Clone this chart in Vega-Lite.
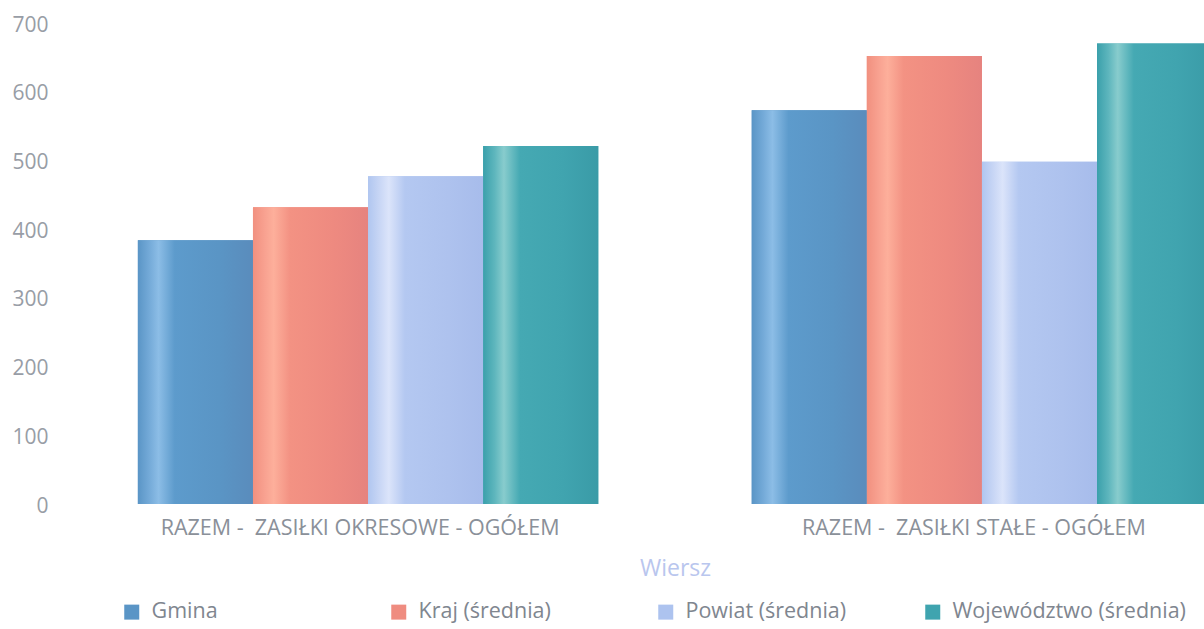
{
  "$schema": "https://vega.github.io/schema/vega-lite/v6.json",
  "autosize": {"type": "none"},
  "padding": {"left": 55, "top": 23, "right": 0, "bottom": 125},
  "width": 1240,
  "height": 481,
  "background": "white",
  "config": {
    "font": "Open Sans",
    "view": {"stroke": null}
  },
  "data": {
    "values": [
      {"category": "RAZEM - \u00a0ZASIŁKI OKRESOWE - OGÓŁEM", "series": "Gmina", "value": 384},
      {"category": "RAZEM - \u00a0ZASIŁKI OKRESOWE - OGÓŁEM", "series": "Kraj (średnia)", "value": 432},
      {"category": "RAZEM - \u00a0ZASIŁKI OKRESOWE - OGÓŁEM", "series": "Powiat (średnia)", "value": 477},
      {"category": "RAZEM - \u00a0ZASIŁKI OKRESOWE - OGÓŁEM", "series": "Województwo (średnia)", "value": 521},
      {"category": "RAZEM - \u00a0ZASIŁKI STAŁE - OGÓŁEM", "series": "Gmina", "value": 573},
      {"category": "RAZEM - \u00a0ZASIŁKI STAŁE - OGÓŁEM", "series": "Kraj (średnia)", "value": 652},
      {"category": "RAZEM - \u00a0ZASIŁKI STAŁE - OGÓŁEM", "series": "Powiat (średnia)", "value": 498},
      {"category": "RAZEM - \u00a0ZASIŁKI STAŁE - OGÓŁEM", "series": "Województwo (średnia)", "value": 670}
    ]
  },
  "encoding": {
    "x": {
      "field": "category",
      "type": "nominal",
      "scale": {"paddingInner": 0.25, "paddingOuter": 0.135},
      "axis": {
        "title": "Wiersz",
        "titleColor": "#b9c6ee",
        "titleFontWeight": "normal",
        "titleFontSize": 23,
        "titleFont": "Open Sans",
        "titlePadding": 19,
        "labelAngle": 0,
        "labelFontSize": 21.5,
        "labelColor": "#8a9099",
        "labelPadding": 13,
        "labelOffset": -8,
        "labelFont": "Open Sans",
        "domain": false,
        "ticks": false,
        "labelLimit": 600
      }
    },
    "xOffset": {
      "field": "series",
      "type": "nominal",
      "scale": {"paddingInner": 0, "paddingOuter": 0}
    },
    "y": {
      "field": "value",
      "type": "quantitative",
      "scale": {"domain": [0, 700], "nice": false},
      "axis": {
        "title": null,
        "values": [0, 100, 200, 300, 400, 500, 600, 700],
        "grid": false,
        "domain": false,
        "ticks": false,
        "labelPadding": 7,
        "labelOffset": 2,
        "labelFontSize": 21,
        "labelColor": "#989da6",
        "labelFont": "Open Sans"
      }
    }
  },
  "layer": [
    {
      "mark": {"type": "bar"},
      "encoding": {
        "color": {
          "field": "series",
          "type": "nominal",
          "scale": {
            "domain": ["Gmina", "Kraj (średnia)", "Powiat (średnia)", "Województwo (średnia)"],
            "range": ["#5a95c6", "#ef8c80", "#adc3ef", "#3fa4af"]
          },
          "legend": {
            "title": null,
            "orient": "none",
            "legendX": 66,
            "legendY": 578,
            "direction": "horizontal",
            "columns": 4,
            "gridAlign": "all",
            "columnPadding": 3,
            "padding": 0,
            "symbolType": "square",
            "symbolSize": 225,
            "symbolStrokeWidth": 0,
            "labelFontSize": 21.5,
            "labelColor": "#80868f",
            "labelFont": "Open Sans",
            "labelOffset": 9,
            "labelLimit": 400
          }
        }
      }
    },
    {
      "mark": {"type": "bar"},
      "encoding": {
        "fill": {
          "condition": [
            {"test": "datum.series === 'Gmina'", "value": {"gradient": "linear", "x1": 0, "x2": 1, "y1": 0, "y2": 0, "stops": [
              {"offset": 0, "color": "#5a95c6"}, {"offset": 0.1, "color": "#74aad8"}, {"offset": 0.18, "color": "#8cbde6"}, {"offset": 0.32, "color": "#5d9bcc"}, {"offset": 0.7, "color": "#5a95c5"}, {"offset": 1, "color": "#5a8cbc"}]}},
            {"test": "datum.series === 'Kraj (średnia)'", "value": {"gradient": "linear", "x1": 0, "x2": 1, "y1": 0, "y2": 0, "stops": [
              {"offset": 0, "color": "#f1907f"}, {"offset": 0.1, "color": "#f8a190"}, {"offset": 0.18, "color": "#fdaf9b"}, {"offset": 0.32, "color": "#f39283"}, {"offset": 0.7, "color": "#ee8a80"}, {"offset": 1, "color": "#e6837f"}]}},
            {"test": "datum.series === 'Powiat (średnia)'", "value": {"gradient": "linear", "x1": 0, "x2": 1, "y1": 0, "y2": 0, "stops": [
              {"offset": 0, "color": "#b0c6f0"}, {"offset": 0.1, "color": "#c8d6f5"}, {"offset": 0.18, "color": "#dbe4fa"}, {"offset": 0.32, "color": "#b4c8f1"}, {"offset": 0.7, "color": "#aec2ee"}, {"offset": 1, "color": "#a7bceb"}]}}
          ],
          "value": {"gradient": "linear", "x1": 0, "x2": 1, "y1": 0, "y2": 0, "stops": [
            {"offset": 0, "color": "#3aa0ab"}, {"offset": 0.1, "color": "#5eb6bd"}, {"offset": 0.18, "color": "#88cccd"}, {"offset": 0.32, "color": "#45a9b3"}, {"offset": 0.7, "color": "#40a4af"}, {"offset": 1, "color": "#3a9ba7"}]}
        }
      }
    }
  ]
}
